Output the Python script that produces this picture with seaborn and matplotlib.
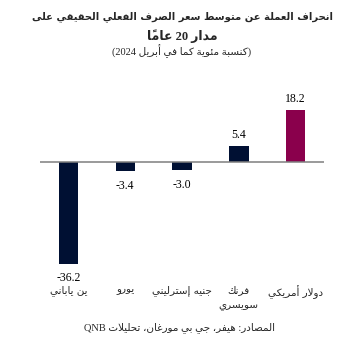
import matplotlib
matplotlib.use("Agg")
import matplotlib.pyplot as plt
import pandas as pd
import seaborn as sns

# ---------------------------------------------------------------- data
currencies = ["ين ياباني", "يورو", "جنيه إسترليني", "فرنك سويسري", "دولار أمريكي"]
deviation = [-36.2, -3.4, -3.0, 5.4, 18.2]
value_labels = ["-36.2", "-3.4", "-3.0", "5.4", "18.2"]
bar_colors = ["#001033", "#001033", "#001033", "#001033", "#8A004C"]

title_words = "انحراف العملة عن متوسط سعر الصرف الفعلي الحقيقي على"
title_line2 = ("مدار", "20", "عاماً")
subtitle_words = "كنسبة مئوية كما في أبريل"
subtitle_year = "2024"
source_words = "المصادر: هيفر، جي بي مورغان، تحليلات"
source_tag = "QNB"

# ------------------------------------------------- Arabic shaping helpers
# letter -> (isolated, final, initial, medial); None for right-joining letters
FORMS = {
    "ء": (0xFE80, None, None, None),
    "آ": (0xFE81, 0xFE82, None, None),
    "أ": (0xFE83, 0xFE84, None, None),
    "ؤ": (0xFE85, 0xFE86, None, None),
    "إ": (0xFE87, 0xFE88, None, None),
    "ئ": (0xFE89, 0xFE8A, 0xFE8B, 0xFE8C),
    "ا": (0xFE8D, 0xFE8E, None, None),
    "ب": (0xFE8F, 0xFE90, 0xFE91, 0xFE92),
    "ة": (0xFE93, 0xFE94, None, None),
    "ت": (0xFE95, 0xFE96, 0xFE97, 0xFE98),
    "ث": (0xFE99, 0xFE9A, 0xFE9B, 0xFE9C),
    "ج": (0xFE9D, 0xFE9E, 0xFE9F, 0xFEA0),
    "ح": (0xFEA1, 0xFEA2, 0xFEA3, 0xFEA4),
    "خ": (0xFEA5, 0xFEA6, 0xFEA7, 0xFEA8),
    "د": (0xFEA9, 0xFEAA, None, None),
    "ذ": (0xFEAB, 0xFEAC, None, None),
    "ر": (0xFEAD, 0xFEAE, None, None),
    "ز": (0xFEAF, 0xFEB0, None, None),
    "س": (0xFEB1, 0xFEB2, 0xFEB3, 0xFEB4),
    "ش": (0xFEB5, 0xFEB6, 0xFEB7, 0xFEB8),
    "ص": (0xFEB9, 0xFEBA, 0xFEBB, 0xFEBC),
    "ض": (0xFEBD, 0xFEBE, 0xFEBF, 0xFEC0),
    "ط": (0xFEC1, 0xFEC2, 0xFEC3, 0xFEC4),
    "ظ": (0xFEC5, 0xFEC6, 0xFEC7, 0xFEC8),
    "ع": (0xFEC9, 0xFECA, 0xFECB, 0xFECC),
    "غ": (0xFECD, 0xFECE, 0xFECF, 0xFED0),
    "ف": (0xFED1, 0xFED2, 0xFED3, 0xFED4),
    "ق": (0xFED5, 0xFED6, 0xFED7, 0xFED8),
    "ك": (0xFED9, 0xFEDA, 0xFEDB, 0xFEDC),
    "ل": (0xFEDD, 0xFEDE, 0xFEDF, 0xFEE0),
    "م": (0xFEE1, 0xFEE2, 0xFEE3, 0xFEE4),
    "ن": (0xFEE5, 0xFEE6, 0xFEE7, 0xFEE8),
    "ه": (0xFEE9, 0xFEEA, 0xFEEB, 0xFEEC),
    "و": (0xFEED, 0xFEEE, None, None),
    "ى": (0xFEEF, 0xFEF0, None, None),
    "ي": (0xFEF1, 0xFEF2, 0xFEF3, 0xFEF4),
}
LAM_ALEF = {"آ": (0xFEF5, 0xFEF6), "أ": (0xFEF7, 0xFEF8),
            "إ": (0xFEF9, 0xFEFA), "ا": (0xFEFB, 0xFEFC)}
MARKS = set(chr(c) for c in range(0x064B, 0x0653))


def _joining(unit):
    if unit is None:
        return "N"
    if isinstance(unit, tuple):
        return "R"
    if unit in FORMS:
        return "D" if FORMS[unit][2] is not None else "R"
    return "N"


def shape_word(word):
    """Contextual forms for one Arabic word, returned in visual (LTR) order."""
    units, i = [], 0
    while i < len(word):
        c = word[i]
        if c == "ل" and i + 1 < len(word) and word[i + 1] in LAM_ALEF:
            units.append(("LA", word[i + 1]))
            i += 2
        else:
            units.append(c)
            i += 1
    bases = [k for k, u in enumerate(units) if not (isinstance(u, str) and u in MARKS)]
    out = {}
    for n, k in enumerate(bases):
        u = units[k]
        prev = units[bases[n - 1]] if n > 0 else None
        nxt = units[bases[n + 1]] if n + 1 < len(bases) else None
        jt = _joining(u)
        jp = jt != "N" and _joining(prev) == "D"
        jn = jt == "D" and _joining(nxt) in ("D", "R")
        if isinstance(u, tuple):
            iso, fin = LAM_ALEF[u[1]]
            out[k] = chr(fin if jp else iso)
        elif jt == "N":
            out[k] = u
        else:
            iso, fin, ini, med = FORMS[u]
            code = med if (jp and jn) else fin if jp else ini if jn else iso
            out[k] = chr(code)
    clusters = []
    for k, u in enumerate(units):
        if k in out:
            clusters.append(out[k])
        elif clusters:
            clusters[-1] += u
        else:
            clusters.append(u)
    return "".join(reversed(clusters))


def rtl(words):
    """A line of Arabic words, shaped and laid out right to left."""
    return " ".join(shape_word(w) for w in reversed(words.split()))


# ----------------------------------------------------------------- style
sns.set_style("white")
MIXED = ["Liberation Serif", "DejaVu Sans"]
ARABIC = ["DejaVu Sans"]
plt.rcParams["font.family"] = MIXED

tick_text = []
for name in currencies:
    words = name.split()
    if name == "فرنك سويسري":
        tick_text.append(shape_word(words[0]) + "\n" + shape_word(words[1]))
    else:
        tick_text.append(rtl(name))

df = pd.DataFrame({"currency": tick_text, "value": deviation})

fig = plt.figure(figsize=(3.39, 3.41), dpi=100)
ax = fig.add_axes([0.118, 0.1938, 0.838, 0.5393])

sns.barplot(data=df, x="currency", y="value", hue="currency",
            palette=bar_colors, width=0.34, saturation=1,
            legend=False, ax=ax, linewidth=0)

ax.set_xlim(-0.5, 4.5)
ax.set_ylim(-40, 25)
ax.axhline(0, color="#7f7f7f", lw=1.1, zorder=3)
for side in ax.spines.values():
    side.set_visible(False)
ax.set_yticks([])
ax.set_xlabel("")
ax.set_ylabel("")
ax.tick_params(axis="x", length=0, pad=7.5)
for lab in ax.get_xticklabels():
    lab.set_fontfamily(ARABIC)
    lab.set_fontsize(7.5)
    lab.set_linespacing(1.45)

for i, (v, t) in enumerate(zip(deviation, value_labels)):
    up = v > 0
    ax.annotate(t, (i, v), xytext=(0, 4 if up else -6),
                textcoords="offset points", ha="center",
                va="bottom" if up else "top", fontsize=8.5,
                family="Liberation Serif", color="#000000")

# ------------------------------------------------------------- headings
fig.text(0.537, 0.950, rtl(title_words), ha="center", va="center",
         fontsize=7.2, fontweight="bold", family=ARABIC)
line2 = shape_word(title_line2[2]) + " " + title_line2[1] + " " + shape_word(title_line2[0])
fig.text(0.537, 0.893, line2, ha="center", va="center",
         fontsize=9, fontweight="bold", family=MIXED)
sub = "(" + subtitle_year + " " + rtl(subtitle_words) + ")"
fig.text(0.535, 0.850, sub, ha="center", va="center",
         fontsize=7.5, family=MIXED)
src = source_tag + " " + rtl(source_words)
fig.text(0.53, 0.040, src, ha="center", va="center",
         fontsize=7.5, family=MIXED)

fig.savefig("out.png", dpi=100, facecolor="white")
